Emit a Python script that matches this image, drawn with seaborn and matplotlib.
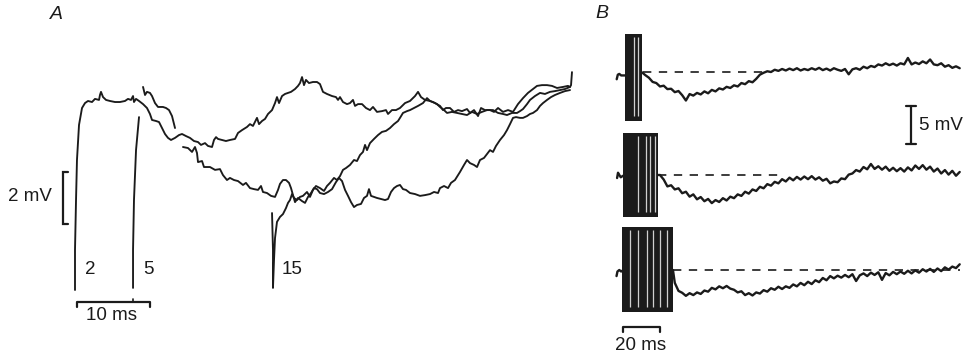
import numpy as np
import pandas as pd
import seaborn as sns
import matplotlib.pyplot as plt

sns.set_theme(style="white")
plt.rcParams['font.family'] = ['Liberation Sans', 'DejaVu Sans']

INK = "#1b1b1b"
FS = 13.5

# ---------------- Panel A: superimposed sweeps after trains of 2, 5 and 15 stimuli
# (time in ms from end of the 2-stimulus train, voltage in mV; NaN = blanked stretch)
A_train_sizes = ["2", "5", "15"]

A_sweep_2 = [
    (0.00, 0.00), (0.00, 1.54), (0.14, 3.46), (0.27, 5.00), (0.55, 6.35), (0.96, 7.00), (1.37, 7.19),
    (1.78, 7.27), (2.33, 7.23), (2.74, 7.35), (3.29, 7.31), (3.42, 7.50), (3.56, 7.62), (3.84, 7.42),
    (4.25, 7.31), (4.79, 7.27), (5.48, 7.23), (6.16, 7.23), (6.85, 7.27), (7.26, 7.35), (7.67, 7.31),
    (7.95, 7.46), (8.08, 7.23), (8.36, 7.35), (8.77, 7.27), (9.32, 7.15), (9.86, 7.00), (10.27, 6.77),
    (10.55, 6.54), (11.10, 6.50), (11.51, 6.46), (11.92, 6.23), (12.33, 6.00), (12.74, 5.85), (13.15, 5.77),
    (13.70, 5.85), (14.25, 5.96), (14.66, 6.00), (15.21, 5.92), (15.75, 5.85), (16.30, 5.73), (16.85, 5.69),
    (17.26, 5.58), (17.81, 5.65), (18.22, 5.54), (18.77, 5.50), (19.04, 5.77), (19.32, 5.88), (19.59, 5.81),
    (20.14, 5.77), (20.68, 5.73), (21.23, 5.77), (21.92, 5.81), (22.33, 6.04), (22.88, 6.15), (23.56, 6.27),
    (23.97, 6.38), (24.38, 6.31), (24.93, 6.62), (25.21, 6.38), (25.62, 6.50), (26.03, 6.58), (26.44, 6.77),
    (26.99, 6.92), (27.40, 7.19), (27.67, 7.42), (27.95, 7.19), (28.36, 7.46), (28.77, 7.54), (29.18, 7.58),
    (29.59, 7.62), (30.14, 7.73), (30.55, 7.85), (30.82, 7.96), (31.10, 8.19), (31.37, 7.88), (31.64, 8.08),
    (32.05, 7.96), (32.60, 8.00), (33.15, 8.00), (33.56, 7.92), (33.97, 7.62), (34.52, 7.54), (35.21, 7.46),
    (35.75, 7.42), (36.03, 7.31), (36.30, 7.42), (36.71, 7.23), (37.26, 7.15), (37.67, 7.19), (38.08, 7.31),
    (38.36, 7.08), (38.77, 7.15), (39.32, 7.15), (39.86, 7.00), (40.41, 6.92), (40.82, 7.04), (41.37, 6.85),
    (42.05, 6.88), (42.60, 6.92), (42.88, 6.77), (43.42, 6.92), (43.97, 6.92), (44.52, 7.00), (45.21, 7.19),
    (45.89, 7.27), (46.58, 7.46), (46.99, 7.62), (47.40, 7.42), (47.95, 7.31), (48.63, 7.27), (49.32, 7.19),
    (50.00, 7.08), (50.41, 6.92), (50.82, 7.00), (51.37, 7.00), (51.92, 6.85), (52.47, 6.92), (53.01, 6.88),
    (53.70, 6.96), (54.11, 6.81), (54.66, 6.92), (55.21, 6.69), (55.62, 7.00), (56.16, 6.92), (56.85, 6.92),
    (57.40, 6.85), (57.95, 7.00), (58.63, 6.85), (59.32, 6.92), (60.00, 6.85), (60.68, 7.15), (61.37, 7.38),
    (62.05, 7.58), (62.74, 7.73), (63.29, 7.85), (63.97, 7.88), (64.66, 7.88), (65.34, 7.85), (66.03, 7.77),
    (66.85, 7.81), (67.53, 7.85), (67.81, 7.81), (67.95, 7.88), (68.08, 8.38),
]

A_sweep_5 = [
    (7.95, 0.08), (7.95, 1.54), (8.08, 3.46), (8.36, 5.38), (8.77, 6.65), (np.nan, np.nan),
    (9.32, 7.81), (9.59, 7.50), (9.86, 7.62), (10.27, 7.58), (10.55, 7.46), (10.96, 7.19), (11.37, 7.04),
    (12.05, 7.04), (12.47, 7.00), (12.88, 6.92), (13.29, 6.69), (13.70, 6.23), (np.nan, np.nan),
    (14.79, 5.50), (15.48, 5.46), (16.03, 5.31), (16.44, 5.50), (16.71, 5.27), (16.85, 4.92), (17.40, 4.96),
    (17.67, 4.73), (18.49, 4.73), (19.18, 4.62), (19.86, 4.65), (20.27, 4.42), (20.82, 4.23), (21.23, 4.31),
    (21.78, 4.23), (22.33, 4.19), (23.01, 4.04), (23.42, 4.12), (23.97, 3.92), (24.52, 3.88), (25.07, 3.85),
    (25.48, 4.00), (25.75, 3.77), (26.30, 3.73), (26.85, 3.62), (27.40, 3.58), (27.81, 3.85), (28.08, 4.08),
    (28.49, 4.23), (28.90, 4.23), (29.32, 4.12), (29.59, 3.92), (29.86, 3.65), (30.14, 3.38), (30.55, 3.54),
    (31.10, 3.42), (31.51, 3.35), (31.92, 3.58), (32.33, 3.73), (32.74, 3.92), (33.15, 3.88), (33.56, 3.73),
    (34.11, 3.69), (34.66, 3.77), (35.21, 3.88), (35.75, 4.15), (36.16, 4.31), (36.58, 4.19), (36.99, 3.85),
    (37.40, 3.62), (37.81, 3.38), (38.22, 3.19), (38.63, 3.27), (39.18, 3.31), (39.59, 3.54), (40.00, 3.62),
    (40.27, 3.88), (40.55, 3.62), (40.96, 3.58), (41.37, 3.54), (41.92, 3.50), (42.47, 3.46), (42.88, 3.50),
    (43.29, 3.77), (43.70, 3.92), (44.11, 4.00), (44.52, 4.04), (44.93, 3.88), (45.34, 3.85), (45.89, 3.73),
    (46.58, 3.69), (47.26, 3.62), (47.95, 3.65), (48.63, 3.69), (49.18, 3.77), (49.73, 3.73), (50.00, 3.92),
    (50.55, 4.00), (51.10, 3.92), (51.51, 4.12), (52.05, 4.23), (52.74, 4.54), (53.29, 4.81), (53.70, 5.00),
    (54.11, 4.88), (54.66, 4.81), (55.07, 4.73), (55.48, 5.00), (56.03, 5.08), (56.44, 5.23), (56.85, 5.38),
    (57.26, 5.31), (57.67, 5.54), (58.22, 5.77), (58.77, 5.96), (59.18, 6.15), (59.59, 6.38), (60.00, 6.62),
    (60.41, 6.65), (60.96, 6.62), (61.37, 6.62), (61.92, 6.69), (62.33, 6.77), (62.74, 6.81), (63.29, 6.92),
    (63.70, 7.08), (64.11, 7.19), (64.66, 7.31), (65.21, 7.42), (65.75, 7.50), (66.44, 7.58), (67.12, 7.65),
    (67.81, 7.69),
]

A_sweep_15 = [
    (26.99, 2.96), (27.12, 1.54), (27.12, 0.08), (27.26, 1.15), (27.40, 2.00), (27.67, 2.62), (28.08, 2.81),
    (28.49, 2.92), (28.90, 3.15), (29.18, 3.35), (29.45, 3.46), (29.73, 3.69), (30.00, 3.54), (30.41, 3.46),
    (30.82, 3.58), (31.23, 3.62), (31.78, 3.77), (32.19, 3.58), (32.60, 3.85), (33.01, 4.00), (33.56, 3.92),
    (34.11, 3.81), (34.52, 4.00), (34.93, 4.12), (35.48, 4.31), (35.89, 4.23), (36.30, 4.38), (36.71, 4.62),
    (37.12, 4.69), (37.67, 4.81), (38.22, 5.00), (38.63, 4.96), (39.04, 5.19), (39.45, 5.31), (39.73, 5.58),
    (40.00, 5.38), (40.41, 5.65), (40.96, 5.81), (41.51, 5.96), (42.05, 6.08), (42.60, 6.12), (43.15, 6.23),
    (43.70, 6.38), (44.25, 6.50), (44.52, 6.62), (44.93, 6.81), (45.48, 6.88), (45.89, 6.92), (46.44, 7.00),
    (46.99, 7.08), (47.67, 7.19), (48.22, 7.38), (48.63, 7.27), (49.04, 7.23), (49.59, 7.15), (50.00, 7.04),
    (50.55, 6.92), (50.96, 6.81), (51.64, 6.85), (52.33, 6.81), (53.01, 6.77), (53.70, 6.73), (54.38, 6.85),
    (55.07, 6.77), (55.75, 6.85), (56.44, 6.92), (57.26, 6.92), (57.95, 6.81), (58.63, 6.77), (59.18, 6.73),
    (59.86, 6.81), (60.55, 6.81), (60.96, 6.88), (61.37, 6.96), (61.92, 7.15), (62.33, 7.31), (63.01, 7.46),
    (63.70, 7.58), (64.38, 7.54), (65.07, 7.62), (65.75, 7.65), (66.44, 7.69), (67.12, 7.73), (67.81, 7.81),
]

A_label_pos = [(1.37, 0.77), (9.30, 0.77), (28.36, 0.77)]   # where each train size is printed

# ---------------- Panel B: three trains of increasing length, each with its own baseline
# (time in ms from the start of the trains, voltage in mV relative to the pre-train level)
B_stack_offset = [26.0, 12.5, 0.0]

B_pre = [
    [(-3.4, -0.9), (-2.8, -0.3), (-2.0, -0.2), (-1.0, -0.4), (0.5, -0.4), (1.1, -0.4)],
    [(-3.2, -0.4), (-2.7, 0.3), (-2.0, 0.0), (-1.2, -0.3), (0.0, -0.1)],
    [(-3.5, -0.8), (-3.0, -0.2), (-2.0, 0.0), (-1.0, -0.2), (-0.5, -0.1)],
]

B_train_span = [(1.1, 10.3), (0.0, 18.9), (-0.5, 27.0)]
B_train_top = [5.1, 5.5, 5.7]
B_train_bottom = [-6.4, -5.5, -5.5]
B_train_gaps = [[5.9, 8.1], [8.1, 12.4, 14.6, 17.3], [3.8, 8.1, 13.0, 16.2, 20.0, 23.8]]

B_dash_span = [(10.8, 75.7), (19.0, 85.0), (27.0, 182.0)]

B_post_1 = [
    (10.3, 0.00), (12, -0.35), (14, -0.70), (16, -1.25), (18, -1.40), (20, -1.85), (22, -1.75), (24, -2.20),
    (26, -2.15), (28, -2.60), (30, -2.45), (32, -3.00), (34, -3.70), (36, -2.85), (38, -3.05), (40, -2.70),
    (42, -2.90), (44, -2.50), (46, -2.75), (48, -2.30), (50, -2.50), (52, -2.10), (54, -2.25), (56, -1.90),
    (58, -2.05), (60, -1.70), (62, -1.85), (64, -1.40), (66, -1.55), (68, -1.15), (70, -1.30), (72, -0.85),
    (74, -0.30), (76, -0.05), (78, 0.15), (80, 0.05), (82, 0.35), (84, 0.20), (86, 0.45), (88, 0.25),
    (90, 0.50), (92, 0.30), (94, 0.55), (96, 0.25), (98, 0.45), (100, 0.30), (102, 0.55), (104, 0.35),
    (106, 0.60), (108, 0.30), (110, 0.50), (112, 0.25), (114, 0.55), (116, 0.35), (118, 0.20), (120, 0.45),
    (122, -0.25), (124, 0.40), (126, 0.55), (128, 0.35), (130, 0.75), (132, 0.55), (134, 0.85), (136, 0.70),
    (138, 1.05), (140, 0.90), (142, 1.20), (144, 0.95), (146, 1.15), (148, 0.90), (150, 1.20), (152, 1.05),
    (154, 1.90), (156, 1.05), (158, 1.30), (160, 1.10), (162, 1.45), (164, 1.20), (166, 1.70), (168, 1.05),
    (170, 0.95), (172, 1.20), (174, 0.75), (176, 0.95), (178, 0.60), (180, 0.80), (182, 0.55),
]

B_post_2 = [
    (19.0, 0.00), (20, 0.00), (22, -0.60), (24, -1.50), (26, -1.35), (28, -1.90), (30, -1.75), (32, -2.40),
    (34, -2.20), (36, -2.85), (38, -2.55), (40, -3.20), (42, -2.90), (44, -3.45), (46, -3.15), (48, -3.70),
    (50, -3.30), (52, -3.55), (54, -3.05), (56, -3.35), (58, -2.85), (60, -3.05), (62, -2.55), (64, -2.75),
    (66, -2.20), (68, -2.45), (70, -1.90), (72, -2.10), (74, -1.55), (76, -1.75), (78, -1.20), (80, -1.40),
    (82, -0.90), (84, -1.10), (86, -0.55), (88, -0.85), (90, -0.35), (92, -0.70), (94, -0.25), (96, -0.60),
    (98, -0.20), (100, -0.55), (102, -0.15), (104, -0.60), (106, -0.30), (108, -0.75), (110, -0.50),
    (112, -1.10), (114, -0.85), (116, -0.95), (118, -0.45), (120, -0.55), (122, 0.05), (124, 0.20),
    (126, 0.65), (128, 0.45), (130, 1.05), (132, 0.75), (134, 1.45), (136, 0.80), (138, 1.15), (140, 0.70),
    (142, 1.10), (144, 0.55), (146, 0.95), (148, 0.50), (150, 0.90), (152, 0.45), (154, 1.00), (156, 0.60),
    (158, 1.25), (160, 0.80), (162, 1.30), (164, 0.70), (166, 1.10), (168, 0.45), (170, 0.85), (172, 0.20),
    (174, 0.65), (176, 0.05), (178, 0.55), (180, -0.10), (182, 0.40),
]

B_post_3 = [
    (27.0, 0.00), (28, -1.70), (30, -2.75), (32, -3.00), (34, -3.40), (36, -3.05), (38, -3.30), (40, -2.95),
    (42, -3.15), (44, -2.70), (46, -2.85), (48, -2.35), (50, -2.55), (52, -2.15), (54, -2.40), (56, -2.10),
    (58, -2.45), (60, -2.60), (62, -2.95), (64, -2.80), (66, -3.30), (68, -3.05), (70, -3.35), (72, -2.95),
    (74, -3.10), (76, -2.65), (78, -2.85), (80, -2.40), (82, -2.60), (84, -2.20), (86, -2.50), (88, -2.15),
    (90, -2.35), (92, -1.90), (94, -2.15), (96, -1.70), (98, -2.00), (100, -1.55), (102, -1.85), (104, -1.35),
    (106, -1.60), (108, -1.05), (110, -1.35), (112, -0.80), (114, -1.10), (116, -0.75), (118, -1.00),
    (120, -0.65), (122, -0.95), (124, -0.55), (126, -1.45), (128, -0.70), (130, -0.45), (132, -0.80),
    (134, -0.35), (136, -0.65), (138, -0.30), (140, -1.30), (142, -0.40), (144, -0.70), (146, -0.25),
    (148, -0.55), (150, -0.20), (152, -0.50), (154, -0.10), (156, -0.45), (158, -0.05), (160, -0.35),
    (162, 0.10), (164, -0.20), (166, 0.15), (168, -0.25), (170, 0.20), (172, -0.15), (174, 0.35),
    (176, 0.05), (178, 0.45), (180, 0.25), (182, 0.75),
]
B_post = [B_post_1, B_post_2, B_post_3]


def to_frame(pairs, name):
    df = pd.DataFrame(pairs, columns=["t", "v"])
    df["unit"] = name + "_" + df["v"].isna().cumsum().astype(str)
    return df.dropna()


fig = plt.figure(figsize=(9.72, 3.55), dpi=100)
fig.patch.set_facecolor("white")

# ---- panel A axes (ms / mV)
axA = fig.add_axes([0, 0, 600 / 972, 1])
axA.set_xlim(-75 / 7.3, 525 / 7.3)
axA.set_ylim(-65 / 26, 290 / 26)
axA.axis("off")

dfA = pd.concat([to_frame(p, n) for p, n in
                 zip([A_sweep_2, A_sweep_5, A_sweep_15], A_train_sizes)], ignore_index=True)
sns.lineplot(data=dfA, x="t", y="v", units="unit", estimator=None, sort=False,
             color=INK, lw=1.35, ax=axA, legend=False)

for lab, (tx, vy) in zip(A_train_sizes, A_label_pos):
    axA.text(tx, vy, lab, fontsize=FS, color=INK, ha="left", va="center")

# 2 mV / 10 ms calibration
axA.plot([-0.96, -1.64, -1.64, -0.96], [4.54, 4.54, 2.54, 2.54], color=INK, lw=1.6,
         solid_joinstyle="miter")
axA.text(-3.15, 3.58, "2 mV", fontsize=FS, color=INK, ha="right", va="center")
axA.plot([0.27, 0.27, 10.27, 10.27], [-0.65, -0.46, -0.46, -0.65], color=INK, lw=1.6)
axA.plot([7.95, 7.95], [-0.46, -0.35], color=INK, lw=1.2)
axA.text(5.0, -1.0, "10 ms", fontsize=FS, color=INK, ha="center", va="center")
axA.text(-2.5, 10.58, "A", fontsize=14, style="italic", color=INK, ha="center", va="center")

# ---- panel B axes (ms / mV, traces stacked)
axB = fig.add_axes([600 / 972, 0, 372 / 972, 1])
axB.set_xlim(-23 / 1.85, 349 / 1.85)
axB.set_ylim(-85 / 7.6, 270 / 7.6)
axB.axis("off")

frames = []
for i, off in enumerate(B_stack_offset):
    for part, pairs in (("pre", B_pre[i]), ("post", B_post[i])):
        df = to_frame(pairs, f"B{i}_{part}")
        df["v"] = df["v"] + off
        frames.append(df)
dfB = pd.concat(frames, ignore_index=True)
sns.lineplot(data=dfB, x="t", y="v", units="unit", estimator=None, sort=False,
             color=INK, lw=1.7, ax=axB, legend=False)

for i, off in enumerate(B_stack_offset):
    t0, t1 = B_train_span[i]
    axB.fill_between([t0, t1], B_train_bottom[i] + off, B_train_top[i] + off,
                     color=INK, lw=0)
    axB.vlines(B_train_gaps[i], B_train_bottom[i] + off + 0.6, B_train_top[i] + off - 0.4,
               color="white", lw=0.9, alpha=0.8)
    d0, d1 = B_dash_span[i]
    axB.hlines(off, d0, d1, color=INK, lw=1.2, linestyles=(0, (5, 4.5)))

# 5 mV / 20 ms calibration
axB.plot([153.0, 158.4], [21.6, 21.6], color=INK, lw=1.6)
axB.plot([155.7, 155.7], [21.6, 16.6], color=INK, lw=1.6)
axB.plot([153.0, 158.4], [16.6, 16.6], color=INK, lw=1.6)
axB.text(160.0, 18.95, "5 mV", fontsize=FS, color=INK, ha="left", va="center")
axB.plot([0.0, 0.0, 20.0, 20.0], [-8.1, -7.5, -7.5, -8.1], color=INK, lw=1.6)
axB.text(9.5, -9.9, "20 ms", fontsize=FS, color=INK, ha="center", va="center")
axB.text(-11.2, 33.7, "B", fontsize=14, style="italic", color=INK, ha="center", va="center")

fig.savefig("out.png", dpi=100, facecolor="white")
